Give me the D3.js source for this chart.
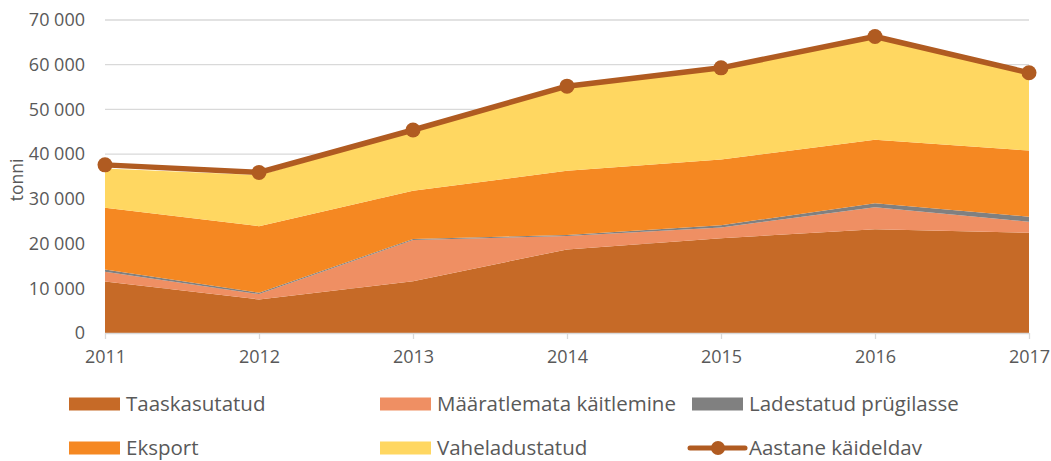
<!DOCTYPE html>
<html>
<head>
<meta charset="utf-8">
<script src="https://cdn.jsdelivr.net/npm/d3@7"></script>
<style>
  body { margin: 0; background: #fff; }
  svg { font-family: "Open Sans", Lato, sans-serif; }
</style>
</head>
<body>
<svg id="chart" width="1051" height="461"></svg>
<script>
var years = [2011, 2012, 2013, 2014, 2015, 2016, 2017];
var taaskasutatud = [11500, 7500, 11600, 18700, 21200, 23200, 22400];
var maaratlemata = [2200, 1200, 9200, 3000, 2400, 4900, 2500];
var ladestatud = [500, 300, 200, 200, 500, 900, 1100];
var eksport = [13800, 14900, 10800, 14400, 14700, 14200, 14800];
var vaheladustatud = [8800, 11400, 13300, 18700, 20200, 22900, 17300];
var aastane = [37600, 35900, 45400, 55200, 59300, 66300, 58200];
var yTicks = [0, 10000, 20000, 30000, 40000, 50000, 60000, 70000];

var seriesNames = ["Taaskasutatud", "Määratlemata käitlemine", "Ladestatud prügilasse", "Eksport", "Vaheladustatud"];
var seriesData = [taaskasutatud, maaratlemata, ladestatud, eksport, vaheladustatud];
var colors = ["#c66a27", "#ef8f63", "#808080", "#f58822", "#ffd761"];
var lineColor = "#b05b21";

var svg = d3.select("#chart");
var plotLeft = 105, plotRight = 1029, plotTop = 20, plotBottom = 333;

var x = d3.scalePoint().domain(years).range([plotLeft, plotRight]);
var y = d3.scaleLinear().domain([0, 70000]).range([plotBottom, plotTop]);

// rows for stacking
var rows = years.map(function(yr, i) {
    var r = { year: yr };
    seriesNames.forEach(function(n, k) { r[n] = seriesData[k][i]; });
    return r;
});
var stacked = d3.stack().keys(seriesNames)(rows);

// gridlines
svg.append("g")
    .selectAll("line")
    .data(yTicks.slice(1))
    .enter().append("line")
    .attr("x1", plotLeft).attr("x2", plotRight)
    .attr("y1", function(d) { return y(d); })
    .attr("y2", function(d) { return y(d); })
    .attr("stroke", "#d9d9d9").attr("stroke-width", 1.3);

// y labels
var yAxis = svg.append("g")
    .attr("transform", "translate(" + plotLeft + ",0)")
    .call(d3.axisLeft(y).tickValues(yTicks).tickSize(0).tickPadding(20)
        .tickFormat(function(d) { return d3.format(",")(d).replace(/,/g, " "); }));
yAxis.select(".domain").remove();
yAxis.selectAll("text").attr("font-size", 18).attr("fill", "#595959")
    .attr("font-family", "'Open Sans', sans-serif");

// areas
var area = d3.area()
    .x(function(d) { return x(d.data.year); })
    .y0(function(d) { return y(d[0]); })
    .y1(function(d) { return y(d[1]); });

svg.append("g")
    .selectAll("path")
    .data(stacked)
    .enter().append("path")
    .attr("d", area)
    .attr("fill", function(d, i) { return colors[i]; });

// x axis
var xAxis = svg.append("g")
    .attr("transform", "translate(0," + plotBottom + ")")
    .call(d3.axisBottom(x).tickSize(6).tickPadding(11));
xAxis.select(".domain").attr("stroke", "#d9d9d9").attr("stroke-width", 1.3)
    .attr("d", "M" + plotLeft + ",0.5H" + plotRight);
xAxis.selectAll(".tick line").attr("stroke", "#d9d9d9").attr("stroke-width", 1.3);
xAxis.selectAll("text").attr("font-size", 18).attr("fill", "#595959")
    .attr("font-family", "'Open Sans', sans-serif");

// total line
var line = d3.line()
    .x(function(d, i) { return x(years[i]); })
    .y(function(d) { return y(d); });

svg.append("path")
    .datum(aastane)
    .attr("d", line)
    .attr("fill", "none")
    .attr("stroke", lineColor)
    .attr("stroke-width", 5.5)
    .attr("stroke-linejoin", "round");

svg.append("g")
    .selectAll("circle")
    .data(aastane)
    .enter().append("circle")
    .attr("cx", function(d, i) { return x(years[i]); })
    .attr("cy", function(d) { return y(d); })
    .attr("r", 7.5)
    .attr("fill", lineColor);

// y title
svg.append("text")
    .attr("transform", "translate(23,180) rotate(-90)")
    .attr("text-anchor", "middle")
    .attr("font-size", 17.5)
    .attr("fill", "#595959")
    .text("tonni");

// legend
var legendItems = seriesNames.map(function(n, i) { return { name: n, color: colors[i], kind: "rect" }; });
legendItems.push({ name: "Aastane käideldav", color: lineColor, kind: "line" });
var colX = [69, 380, 692];
var rowY = [404, 448];

var leg = svg.append("g")
    .selectAll("g")
    .data(legendItems)
    .enter().append("g")
    .attr("transform", function(d, i) {
        return "translate(" + colX[i % 3] + "," + rowY[Math.floor(i / 3)] + ")";
    });

leg.filter(function(d) { return d.kind == "rect"; })
    .append("rect")
    .attr("x", 0).attr("y", -6.5)
    .attr("width", 51).attr("height", 13)
    .attr("fill", function(d) { return d.color; });

var legLine = leg.filter(function(d) { return d.kind == "line"; });
legLine.append("line")
    .attr("x1", -2).attr("x2", 53).attr("y1", 0).attr("y2", 0)
    .attr("stroke", function(d) { return d.color; })
    .attr("stroke-width", 5)
    .attr("stroke-linecap", "round");
legLine.append("circle")
    .attr("cx", 26).attr("cy", 0).attr("r", 7)
    .attr("fill", function(d) { return d.color; });

leg.append("text")
    .attr("x", 57).attr("y", 0)
    .attr("dy", "0.35em")
    .attr("font-size", 20.5)
    .attr("fill", "#595959")
    .text(function(d) { return d.name; });
</script>
</body>
</html>
